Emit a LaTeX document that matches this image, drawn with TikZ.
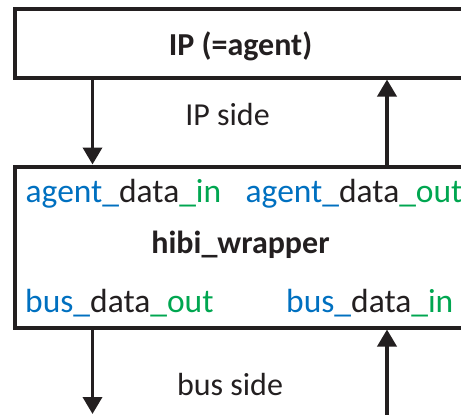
\documentclass[tikz,border=0pt]{standalone}
\usepackage{fontspec}
\setmainfont{Carlito}
\usetikzlibrary{arrows.meta}
\definecolor{ink}{HTML}{231F20}
\definecolor{sigblue}{HTML}{0070C0}
\definecolor{siggreen}{HTML}{00A650}
\tikzset{
  block/.style={draw=ink, line width=4pt, rectangle, inner sep=0pt},
  label/.style={text=ink, inner sep=0pt, font=\fontsize{32}{38}\selectfont},
  port/.style={label, font=\fontsize{33.5}{40}\selectfont},
  title/.style={label, font=\fontsize{32}{38}\selectfont\bfseries},
  flow/.style={draw=ink, line width=3.6pt, -{Triangle[width=19pt,length=17pt]}},
}
\newcommand{\sig}[3]{\textcolor{sigblue}{#1\_}#2\textcolor{siggreen}{\_#3}}
\begin{document}
\begin{tikzpicture}[x=1pt,y=-1pt]
  \useasboundingbox (0,0) rectangle (461,415);
  \clip (0,0) rectangle (461,415);

  % the two blocks; their right sides run past the frame
  \node[block, minimum width=466pt, minimum height=68.5pt] (ip) at (247.5,43.25) {};
  \node[block, minimum width=466pt, minimum height=161pt] (wrap) at (247.5,247) {};

  % block titles
  \node[title, anchor=base] (iptitle) at (240.5,55) {IP (=agent)};
  \node[title, anchor=base] (wraptitle) at (240.5,253) {hibi\_wrapper};

  % port names inside the wrapper
  \node[port, anchor=base west] (ain)  at (25.5,202) {\sig{agent}{data}{in}};
  \node[port, anchor=base west] (aout) at (245.5,202) {\sig{agent}{data}{out}};
  \node[port, anchor=base west] (bout) at (25,312) {\sig{bus}{data}{out}};
  \node[port, anchor=base west] (bin)  at (286,312) {\sig{bus}{data}{in}};

  % side captions
  \node[label, anchor=base] (ipside) at (227.5,125) {IP side};
  \node[label, anchor=base] (busside) at (230,395) {bus side};

  % free ends of the bus-side connectors
  \coordinate (busout) at (92.5,414);
  \coordinate (busin) at (387,418);

  % data flow between the IP and the wrapper
  \draw[flow] (ip.south -| 92.5,0) -- (wrap.north -| 92.5,0);
  \draw[flow] (wrap.north -| 387,0) -- (ip.south -| 387,0);

  % data flow between the wrapper and the bus
  \draw[flow] (wrap.south -| busout) -- (busout);
  \draw[flow] (busin) -- (wrap.south -| busin);
\end{tikzpicture}
\end{document}
